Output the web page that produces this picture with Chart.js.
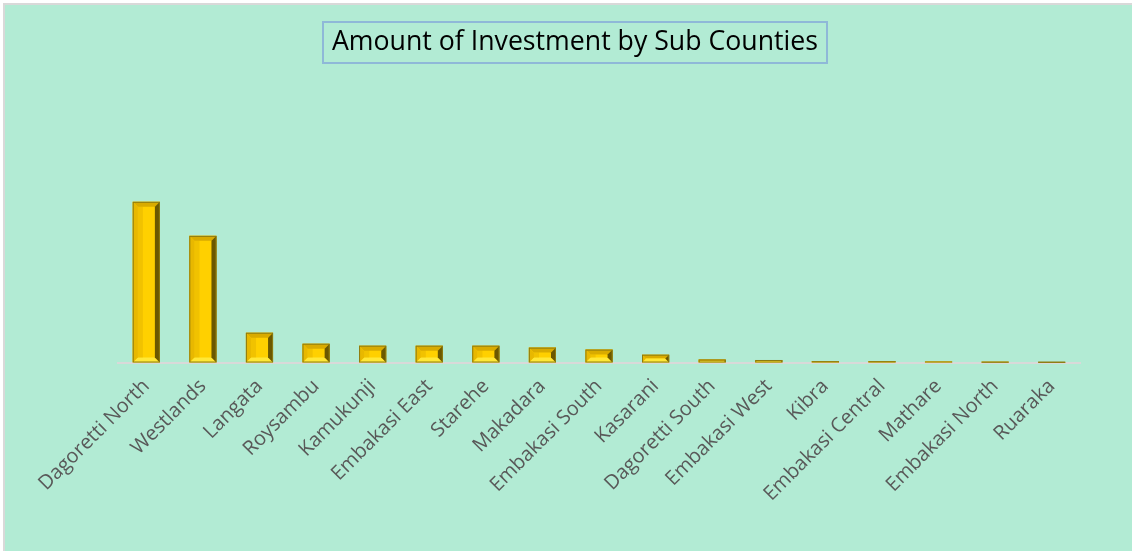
<!DOCTYPE html>
<html lang="en">
<head>
    <meta charset="UTF-8">
    <title>Amount of Investment by Sub Counties</title>
    <script src="https://cdn.jsdelivr.net/npm/chart.js"></script>
    <style>
        body {
            margin: 0;
            padding: 0;
            background-color: #ffffff;
        }

        .panel {
            position: absolute;
            left: 3px;
            top: 3px;
            width: 1129px;
            height: 548px;
            background-color: #b2ebd4;
            border-left: 2px solid #d9d9d9;
            border-top: 2px solid #d9d9d9;
        }
    </style>
</head>
<body>

    <div class="panel">
        <canvas id="investChart" width="1127" height="546"></canvas>
    </div>

    <script>
        // Sub counties and the amount of investment (relative units)
        const subCounties = [
            'Dagoretti North', 'Westlands', 'Langata', 'Roysambu', 'Kamukunji',
            'Embakasi East', 'Starehe', 'Makadara', 'Embakasi South', 'Kasarani',
            'Dagoretti South', 'Embakasi West', 'Kibra', 'Embakasi Central',
            'Mathare', 'Embakasi North', 'Ruaraka'
        ];
        const investment = [
            57.1, 45.0, 10.6, 6.7, 6.0,
            6.0, 6.0, 5.3, 4.6, 2.8,
            1.1, 0.9, 0.5, 0.5,
            0.35, 0.25, 0.2
        ];
        const yMax = 100;

        const titleCenterX = 570;  // title sits a bit left of the plot centre

        // Draws the beveled gold look on top of each plain bar
        const bevelBars = {
            id: 'bevelBars',
            afterDatasetsDraw(chart) {
                const ctx = chart.ctx;
                const meta = chart.getDatasetMeta(0);
                meta.data.forEach(function(bar) {
                    const l = bar.x - bar.width / 2;
                    const r = bar.x + bar.width / 2;
                    const t = Math.min(bar.y, bar.base);
                    const b = Math.max(bar.y, bar.base);
                    const h = b - t;
                    if (h < 0.5) return;
                    const k = Math.min(5, h / 2, bar.width / 2);

                    function poly(pts, color) {
                        ctx.beginPath();
                        ctx.moveTo(pts[0][0], pts[0][1]);
                        for (let i = 1; i < pts.length; i++) ctx.lineTo(pts[i][0], pts[i][1]);
                        ctx.closePath();
                        ctx.fillStyle = color;
                        ctx.fill();
                    }

                    ctx.save();
                    poly([[l, t], [r, t], [r - k, t + k], [l + k, t + k]], '#d9ab00');   // top
                    poly([[l, b], [r, b], [r - k, b - k], [l + k, b - k]], '#ffe838');   // bottom
                    poly([[l, t], [l + k, t + k], [l + k, b - k], [l, b]], '#e8b800');   // left
                    poly([[r, t], [r - k, t + k], [r - k, b - k], [r, b]], '#6b5800');   // right
                    if (h > 2 * k + 2) {
                        ctx.fillStyle = 'rgba(200, 150, 0, 0.25)';
                        ctx.fillRect(l + k, t + k, (r - l - 2 * k) * 0.3, h - 2 * k);
                    }
                    ctx.strokeStyle = '#8c7a10';
                    ctx.lineWidth = 1;
                    ctx.strokeRect(l + 0.5, t + 0.5, r - l - 1, h - 1);
                    ctx.restore();
                });
            }
        };

        // Re-centre the title and draw the box round it
        const titleBox = {
            id: 'titleBox',
            afterLayout(chart) {
                const tb = chart.titleBlock;
                const half = Math.min(titleCenterX, chart.width - titleCenterX);
                tb.left = titleCenterX - half;
                tb.right = titleCenterX + half;
                tb.width = 2 * half;
            },
            afterDraw(chart) {
                const ctx = chart.ctx;
                const opts = chart.options.plugins.title;
                ctx.save();
                ctx.font = opts.font.size + 'px ' + opts.font.family;
                const w = ctx.measureText(opts.text).width;
                const cy = chart.titleBlock.top + opts.padding.top + opts.font.size * 1.2 / 2;
                ctx.strokeStyle = '#8fb8d8';
                ctx.lineWidth = 2;
                ctx.strokeRect(Math.round(titleCenterX - w / 2 - 9), Math.round(cy - 20), Math.round(w + 18), 41);
                ctx.restore();
            }
        };

        const ctx = document.getElementById('investChart').getContext('2d');
        const investChart = new Chart(ctx, {
            type: 'bar',
            data: {
                labels: subCounties,
                datasets: [{
                    label: 'Amount of Investment',
                    data: investment,
                    backgroundColor: '#ffd000',
                    borderWidth: 0,
                    categoryPercentage: 1.0,
                    barPercentage: 0.48
                }]
            },
            options: {
                responsive: false,
                animation: false,
                layout: {
                    padding: { left: 113, right: 52, top: 0, bottom: 41 }
                },
                plugins: {
                    legend: { display: false },
                    tooltip: { enabled: false },
                    title: {
                        display: true,
                        text: 'Amount of Investment by Sub Counties',
                        color: '#000000',
                        font: { family: 'Open Sans', size: 26.7, weight: 'normal' },
                        padding: { top: 21, bottom: 23 }
                    }
                },
                scales: {
                    x: {
                        grid: { display: false },
                        border: { display: true, color: '#d9d9d9', width: 2 },
                        ticks: {
                            color: '#595959',
                            font: { family: 'Open Sans', size: 20 },
                            maxRotation: 45,
                            minRotation: 45,
                            autoSkip: false,
                            padding: 4
                        }
                    },
                    y: {
                        display: false,
                        min: 0,
                        max: yMax
                    }
                }
            },
            plugins: [bevelBars, titleBox]
        });
    </script>

</body>
</html>
